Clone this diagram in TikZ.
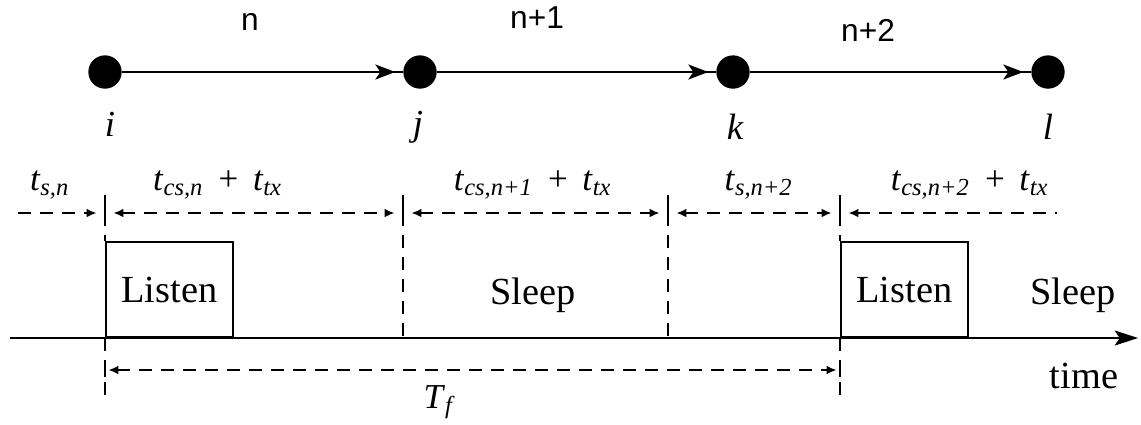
\documentclass[tikz,border=0pt]{standalone}
\usepackage{fontspec}
\setmainfont{Liberation Serif}
\newfontfamily\hopfont{Liberation Sans}
\usetikzlibrary{arrows.meta,decorations.markings}

% italic time label with subscript
\newcommand{\tsub}[1]{\textit{t}\textsubscript{\textit{#1}}}

\begin{document}
\begin{tikzpicture}[
  x=0.3pt, y=-0.3pt,
  dot/.style={circle, fill=black, inner sep=0pt, minimum size=10pt},
  hop/.style={line width=0.6pt, postaction={decorate},
    decoration={markings, mark=at position -2.2pt with {\arrow{Stealth[length=6pt,width=4.5pt,inset=1.5pt]}}}},
  dlbl/.style={font=\itshape\fontsize{11}{13}\selectfont},
  hlbl/.style={font=\hopfont\fontsize{9.5}{11}\selectfont},
  tlbl/.style={font=\fontsize{10.5}{12}\selectfont},
  word/.style={font=\fontsize{11.5}{13}\selectfont},
  slot/.style={draw, line width=0.6pt, anchor=south west, minimum width=38pt,
    minimum height=28.5pt, inner sep=0pt, font=\fontsize{11.5}{13}\selectfont},
  dline/.style={line width=0.6pt, dash pattern=on 3.9pt off 2.7pt},
  dimtip/.style={line width=0.6pt, dash pattern=on 3.9pt off 2.7pt,
    >={Latex[length=3pt,width=2.6pt]}, shorten <=2.5pt, shorten >=2.5pt},
  tick/.style={line width=0.6pt},
]
\useasboundingbox (0,0) rectangle (1141,424);

% ============ hop chain ============
\node[dot] (ni) at (105,72) {};
\node[dot] (nj) at (420,72) {};
\node[dot] (nk) at (733,72) {};
\node[dot] (nl) at (1048,72) {};
\node[dlbl] at (110,124) {i};
\node[dlbl] at (418,127) {j};
\node[dlbl] at (735,127) {k};
\node[dlbl] at (1048,127) {l};
\draw[hop] (ni) -- (nj);
\draw[hop] (nj) -- (nk);
\draw[hop] (nk) -- (nl);
\node[hlbl] at (250,22) {n};
\node[hlbl] at (537,18) {n+1};
\node[hlbl] at (868,30) {n+2};

% ============ slot boundaries ============
\coordinate (b0) at (10,213);
\coordinate (b1) at (105,213);
\coordinate (b2) at (403,213);
\coordinate (b3) at (668,213);
\coordinate (b4) at (840,213);
\coordinate (b5) at (1057,213);
\foreach \b in {b1,b2,b3,b4}
  \draw[tick] ([yshift=18*0.3pt]\b) -- (\b);

% ============ time axis and slots ============
\coordinate (t0) at (10,338);
\coordinate (t1) at (1138,338);
\node[slot] (listen1) at (105,338) {Listen};
\node[slot] (listen2) at (840,338) {Listen};
\draw[line width=0.6pt, -{Stealth[length=7pt,width=4.5pt,inset=1.5pt]}] (t0) -- (t1);
\node[word] at (533,295) {Sleep};
\node[word] at (1073,295) {Sleep};
\node[word] at (1084,376) {time};

% dashed boundary lines
\draw[dline] (b1) -- (listen1.north west);
\draw[dline] (b2) -- (b2 |- t0);
\draw[dline] (b3) -- (b3 |- t0);
\draw[dline] (b4) -- (listen2.north west);
\coordinate (f1) at (105,370);
\coordinate (f2) at (840,370);
\draw[dline] (listen1.south west) -- ++(0,65);
\draw[dline] (listen2.south west) -- ++(0,65);

% ============ durations ============
\draw[dimtip, ->] (b0) -- (b1);
\draw[dimtip, <->] (b1) -- (b2);
\draw[dimtip, <->] (b2) -- (b3);
\draw[dimtip, <->] (b3) -- (b4);
\draw[dimtip, <-, shorten >=0pt] (b4) -- (b5);
\node[tlbl] at (50,185) {\tsub{s,n}};
\node[tlbl] at (218,185) {\tsub{cs,n}\, + \,\tsub{tx}};
\node[tlbl] at (533,185) {\tsub{cs,n+1}\, + \,\tsub{tx}};
\node[tlbl] at (759,185) {\tsub{s,n+2}};
\node[tlbl] at (970,185) {\tsub{cs,n+2}\, + \,\tsub{tx}};

% frame length
\draw[tick] ([yshift=-7*0.3pt]f1) -- ([yshift=7*0.3pt]f1);
\draw[tick] ([yshift=-7*0.3pt]f2) -- ([yshift=7*0.3pt]f2);
\draw[dimtip, <->, shorten <=1pt, shorten >=1pt] (f1) -- (f2);
\node[tlbl] at (440,402) {\textit{T}\textsubscript{\textit{f}}};

\end{tikzpicture}
\end{document}
